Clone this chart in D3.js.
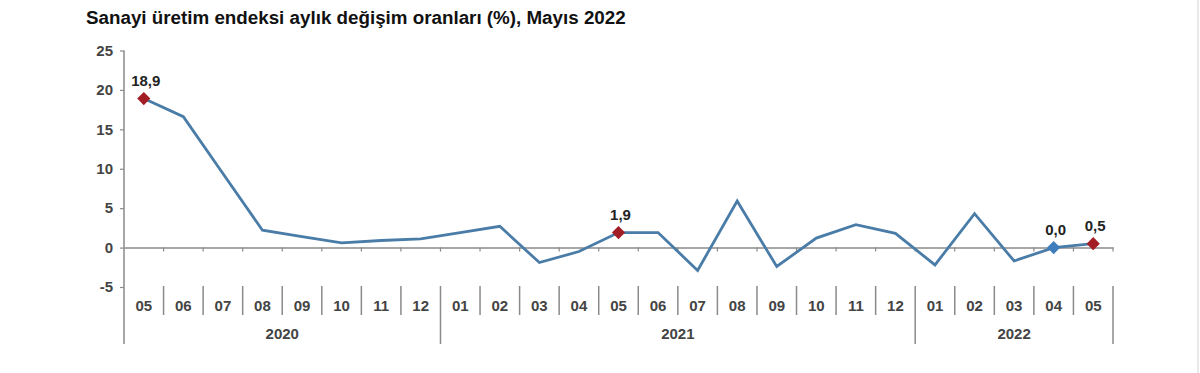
<!DOCTYPE html>
<html>
<head>
<meta charset="utf-8">
<script src="https://cdn.jsdelivr.net/npm/d3@7"></script>
<style>
  html, body { margin: 0; padding: 0; background: #ffffff; }
  svg { display: block; }
  text { font-family: "Liberation Sans", Arial, sans-serif; }
</style>
</head>
<body>
<svg id="chart" width="1200" height="373"></svg>
<script>
// ---- data ----
const title = "Sanayi üretim endeksi aylık değişim oranları (%), Mayıs 2022";
const months = ["05","06","07","08","09","10","11","12",
                "01","02","03","04","05","06","07","08","09","10","11","12",
                "01","02","03","04","05"];
const values = [18.9, 16.6, 9.4, 2.2, 1.4, 0.6, 0.9, 1.1,
                1.9, 2.7, -1.9, -0.5, 1.9, 1.9, -2.9, 5.9, -2.4, 1.2, 2.9, 1.8,
                -2.2, 4.3, -1.7, 0.0, 0.5];
const yearLabels = ["2020", "2021", "2022"];
const yearCounts = [8, 12, 5];
const yTicks = [-5, 0, 5, 10, 15, 20, 25];
const labelIndex = [0, 12, 23, 24];
const labelText = ["18,9", "1,9", "0,0", "0,5"];

// ---- layout ----
const svg = d3.select("#chart");
const left = 124, right = 1113;
const keys = months.map((m, i) => i);
const x = d3.scaleBand().domain(keys).range([left, right]).paddingInner(0).paddingOuter(0);
const y = d3.scaleLinear().domain([-5, 25]).range([287, 50.5]);
const axisColor = "#8a8a8a";
const textColor = "#444444";
const lineColor = "#4a7ca8";
const red = "#a31d24";
const blue = "#3f7dbd";
const cx = i => x(i) + x.bandwidth() / 2;

// title
svg.append("text")
  .attr("x", 86).attr("y", 24)
  .attr("font-size", 18.8).attr("font-weight", "bold").attr("fill", "#111")
  .text(title);

// faint frame line at right
svg.append("line").attr("x1", 1198).attr("x2", 1198).attr("y1", 0).attr("y2", 373)
  .attr("stroke", "#e2e2e2").attr("stroke-width", 1.5);

// y axis
const yAxis = d3.axisLeft(y).tickValues(yTicks).tickSize(4).tickPadding(7).tickFormat(d => String(d));
const gy = svg.append("g").attr("transform", `translate(${left},0)`).call(yAxis);
gy.select(".domain").remove();
gy.selectAll(".tick line").attr("stroke", axisColor).attr("stroke-width", 1.2);
gy.selectAll(".tick text").attr("font-size", 15).attr("font-weight", "bold").attr("fill", textColor)
  .attr("font-family", "Liberation Sans, Arial, sans-serif");
// vertical axis line from top to bottom of the category area
svg.append("line").attr("x1", left).attr("x2", left).attr("y1", y(25)).attr("y2", 344)
  .attr("stroke", axisColor).attr("stroke-width", 1.5);

// zero line with small tick marks at band boundaries
const gx = svg.append("g").attr("transform", `translate(0,${y(0)})`)
  .call(d3.axisBottom(x).tickValues([]).tickSizeOuter(0));
gx.select(".domain").attr("stroke", axisColor).attr("stroke-width", 1.5);
const boundaries = d3.range(months.length + 1).map(i => left + i * x.bandwidth());
svg.append("g").selectAll("line").data(boundaries.slice(1)).join("line")
  .attr("x1", d => d).attr("x2", d => d)
  .attr("y1", y(0)).attr("y2", y(0) + 4)
  .attr("stroke", axisColor).attr("stroke-width", 1.2);

// category separators
const yearStarts = [];
let acc = 0;
yearCounts.forEach(c => { yearStarts.push(acc); acc += c; });
const yearBounds = new Set([...yearStarts, acc]);
svg.append("g").selectAll("line").data(d3.range(1, months.length + 1)).join("line")
  .attr("x1", i => left + i * x.bandwidth()).attr("x2", i => left + i * x.bandwidth())
  .attr("y1", 286)
  .attr("y2", i => yearBounds.has(i) ? 344 : 315)
  .attr("stroke", axisColor).attr("stroke-width", 1.5);

// month labels
svg.append("g").selectAll("text").data(months).join("text")
  .attr("x", (d, i) => cx(i)).attr("y", 311)
  .attr("text-anchor", "middle").attr("font-size", 15).attr("font-weight", "bold").attr("fill", textColor)
  .text(d => d);

// year labels
svg.append("g").selectAll("text").data(yearLabels).join("text")
  .attr("x", (d, j) => left + (yearStarts[j] + yearCounts[j] / 2) * x.bandwidth())
  .attr("y", 339)
  .attr("text-anchor", "middle").attr("font-size", 15).attr("font-weight", "bold").attr("fill", textColor)
  .text(d => d);

// line
const line = d3.line().x((d, i) => cx(i)).y(d => y(d));
svg.append("path").datum(values)
  .attr("d", line).attr("fill", "none")
  .attr("stroke", lineColor).attr("stroke-width", 2.8).attr("stroke-linejoin", "miter");

// markers and labels
const sym = d3.symbol().type(d3.symbolDiamond2).size(110);
labelIndex.forEach((idx, k) => {
  const col = idx === 23 ? blue : red;
  svg.append("path").attr("d", sym())
    .attr("transform", `translate(${cx(idx)},${y(values[idx])})`)
    .attr("fill", col);
  svg.append("text")
    .attr("x", cx(idx) + 2).attr("y", y(values[idx]) - 13)
    .attr("text-anchor", "middle").attr("font-size", 15).attr("font-weight", "bold")
    .attr("fill", "#222")
    .text(labelText[k]);
});
</script>
</body>
</html>
